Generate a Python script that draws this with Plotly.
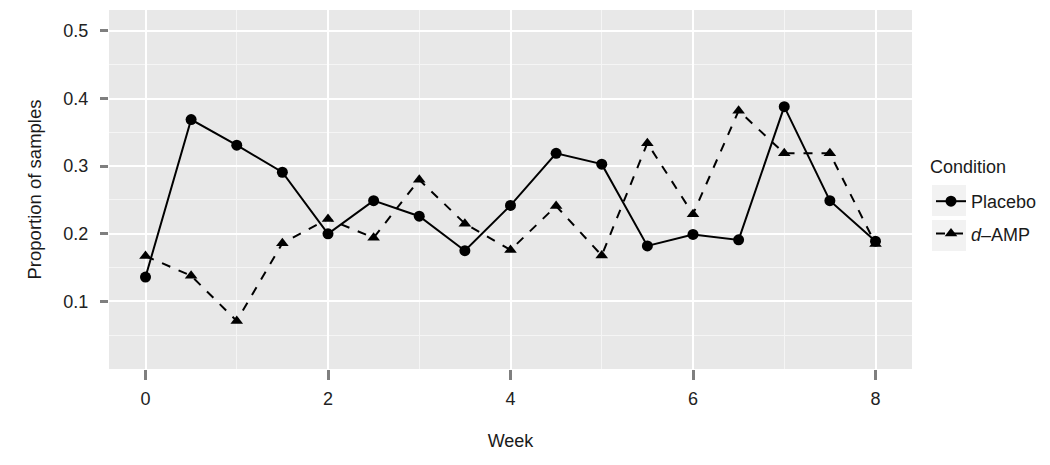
import plotly.graph_objects as go

# Data
weeks = [0, 0.5, 1, 1.5, 2, 2.5, 3, 3.5, 4, 4.5, 5, 5.5, 6, 6.5, 7, 7.5, 8]
placebo = [0.136, 0.369, 0.331, 0.291, 0.200, 0.249, 0.226, 0.175, 0.242,
           0.319, 0.303, 0.182, 0.199, 0.191, 0.388, 0.249, 0.189]
d_amp = [0.167, 0.138, 0.071, 0.186, 0.222, 0.194, 0.280, 0.215, 0.176,
         0.241, 0.168, 0.334, 0.229, 0.382, 0.319, 0.319, 0.185]

x_ticks = [0, 2, 4, 6, 8]
y_ticks = [0.1, 0.2, 0.3, 0.4, 0.5]

font = "Liberation Sans, Arial, sans-serif"

# page has an 8px body margin, so work in figure pixels = page pixels - 8
W, H = 1042, 457
L, R, T, B = 101, 904, 2, 361

def px(x):
    return (x - L) / (R - L)

def py(y):
    return (B - y) / (B - T)

fig = go.Figure()

fig.add_trace(go.Scatter(
    x=weeks, y=placebo, name="Placebo", mode="lines+markers", legendgroup="p",
    line=dict(color="black", width=2, dash="solid"),
    marker=dict(symbol="circle", size=11, color="black"),
))
fig.add_trace(go.Scatter(
    x=weeks, y=d_amp, name="<i>d</i>\u2013AMP", mode="lines+markers", legendgroup="d",
    line=dict(color="black", width=2, dash="dash"),
    marker=dict(symbol="triangle-up", size=11, color="black"),
))

# grey legend key boxes, ggplot style
for y0, y1 in [(177, 208), (212, 243)]:
    fig.add_shape(type="rect", xref="paper", yref="paper",
                  x0=px(924), x1=px(958), y0=py(y1), y1=py(y0),
                  fillcolor="#F2F2F2", line=dict(width=0), layer="below")

fig.add_annotation(text="Condition", xref="paper", yref="paper",
                   x=px(920), y=py(159), xanchor="left", yanchor="middle",
                   showarrow=False, font=dict(size=18, color="#1a1a1a"))

fig.update_layout(
    width=W, height=H,
    margin=dict(l=L, r=W - R, t=T, b=H - B),
    paper_bgcolor="white",
    plot_bgcolor="#E8E8E8",
    font=dict(family=font, size=18, color="#1a1a1a"),
    showlegend=True,
    legend=dict(
        x=px(923), xanchor="left", y=py(175), yanchor="top",
        bgcolor="rgba(0,0,0,0)", font=dict(size=18, color="#1a1a1a"),
        itemwidth=30, tracegroupgap=6,
    ),
    xaxis=dict(
        range=[-0.4, 8.4], tickvals=x_ticks, ticktext=[str(v) for v in x_ticks],
        showgrid=True, gridcolor="white", gridwidth=2.2,
        minor=dict(dtick=1, tick0=0, showgrid=True, gridcolor="#F5F5F5", gridwidth=1),
        ticks="outside", ticklen=10, tickwidth=2.5, tickcolor="#7F7F7F",
        ticklabelstandoff=3,
        zeroline=False, showline=False, automargin=False,
        title=dict(text="Week", standoff=26, font=dict(size=18)),
        tickfont=dict(size=18, color="#222222"),
    ),
    yaxis=dict(
        range=[0.0, 0.531], tickvals=y_ticks, ticktext=[f"{v:.1f}" for v in y_ticks],
        showgrid=True, gridcolor="white", gridwidth=2.2,
        minor=dict(dtick=0.05, tick0=0.05, showgrid=True, gridcolor="#F5F5F5", gridwidth=1),
        ticks="outside", ticklen=8, tickwidth=2.5, tickcolor="#7F7F7F",
        ticklabelstandoff=8,
        zeroline=False, showline=False, automargin=False,
        title=dict(text="Proportion of samples", standoff=16, font=dict(size=18.5)),
        tickfont=dict(size=18, color="#222222"),
    ),
)

fig.write_html("out.html")
